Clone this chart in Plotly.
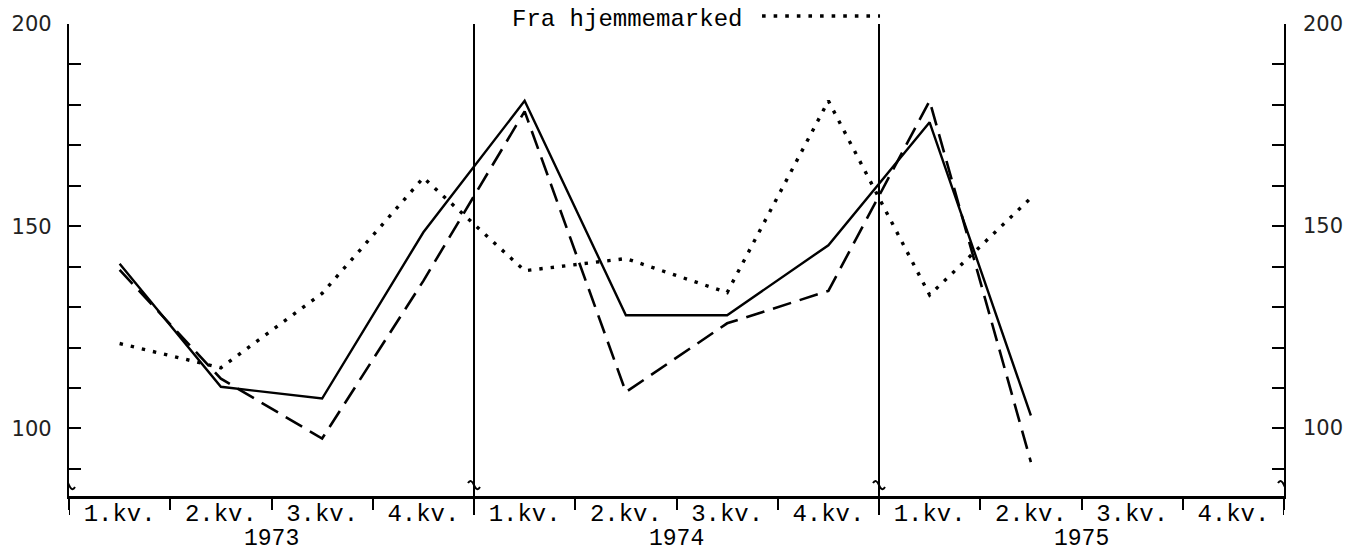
import plotly.graph_objects as go

# ---- data ----
quarters = ["1.kv.", "2.kv.", "3.kv.", "4.kv."]
years = ["1973", "1974", "1975"]

solid_vals = [140.7, 110.3, 107.4, 148.5, 181.0, 128.0, 128.0, 145.3, 175.7, 103.2]
dashed_vals = [139.2, 112.3, 97.5, 136.5, 178.4, 109.0, 126.0, 134.0, 181.0, 91.7]
hjemme_vals = [121.0, 115.0, 133.4, 162.0, 139.0, 142.0, 133.6, 181.0, 133.0, 157.0]

y_tick_vals = [90, 100, 110, 120, 130, 140, 150, 160, 170, 180, 190, 200]
y_tick_text = ["", "100", "", "", "", "", "150", "", "", "", "", "200"]
y_range = [83.3, 200]

legend_label = "Fra hjemmemarked"

# ---- build ----
x_labels = [q for _ in years for q in quarters]
x_pos = list(range(len(x_labels)))
n_q = len(quarters)

MONO = "Liberation Mono"
SANS = "DejaVu Sans"

fig = go.Figure()
fig.add_trace(go.Scatter(x=x_pos[:len(solid_vals)], y=solid_vals, mode="lines",
                         line=dict(color="black", width=2.4), showlegend=False,
                         name="heltrukket"))
fig.add_trace(go.Scatter(x=x_pos[:len(dashed_vals)], y=dashed_vals, mode="lines",
                         line=dict(color="black", width=2.6, dash="19px,9px"),
                         showlegend=False, name="stiplet"))
fig.add_trace(go.Scatter(x=x_pos[:len(hjemme_vals)], y=hjemme_vals, mode="lines",
                         line=dict(color="black", width=3.4, dash="3.4px,8px"),
                         showlegend=False, name=legend_label))

shapes = []
# year separators
for k in range(1, len(years)):
    xb = k * n_q - 0.5
    shapes.append(dict(type="line", xref="x", yref="paper", x0=xb, x1=xb,
                       y0=-0.04, y1=1, line=dict(color="black", width=2)))
# end ticks below axis
for xb in [-0.5, len(x_labels) - 0.5]:
    shapes.append(dict(type="line", xref="x", yref="paper", x0=xb, x1=xb,
                       y0=-0.04, y1=0, line=dict(color="black", width=2)))
# break squiggles
brk_y = 86
for xb in [-0.5, 3.5, 7.5, 11.5]:
    shapes.append(dict(type="path", xref="x", yref="y", xsizemode="pixel",
                       ysizemode="pixel", xanchor=xb, yanchor=brk_y,
                       path="M -6,2 Q -3,7 0,0 Q 3,-7 6,-2",
                       line=dict(color="black", width=2)))
# legend sample dotted line
shapes.append(dict(type="line", xref="paper", yref="paper", x0=0.5704, x1=0.6675,
                   y0=1.0168, y1=1.0168,
                   line=dict(color="black", width=3.6, dash="3.6px,8px")))

annotations = []
for i, yr in enumerate(years):
    annotations.append(dict(text=yr, x=i * n_q + (n_q - 1) / 2, xref="x",
                            y=-0.0903, yref="paper", showarrow=False,
                            xanchor="center", yanchor="middle",
                            font=dict(family=MONO, size=23, color="black")))
for v, t in zip(y_tick_vals, y_tick_text):
    if t:
        annotations.append(dict(text=t, x=1, xref="paper", y=v, yref="y",
                                xshift=17, showarrow=False, xanchor="left",
                                yanchor="middle",
                                font=dict(family=SANS, size=21, color="#222")))
annotations.append(dict(text=legend_label, x=0.363, xref="paper", y=1.042,
                        yref="paper", showarrow=False, xanchor="left",
                        yanchor="top",
                        font=dict(family=MONO, size=24, color="black")))

fig.update_layout(
    width=1349, height=552,
    margin=dict(l=69, r=65, t=20, b=56),
    plot_bgcolor="white", paper_bgcolor="white",
    shapes=shapes, annotations=annotations,
    xaxis=dict(range=[-0.5, len(x_labels) - 0.5], tickvals=x_pos, ticktext=x_labels,
               ticks="", showgrid=False, zeroline=False, showline=True,
               linecolor="black", linewidth=2.5, ticklabelstandoff=-7,
               tickfont=dict(family=MONO, size=24, color="black"),
               minor=dict(ticks="outside", tick0=-0.5, dtick=1, ticklen=11,
                          tickwidth=2, tickcolor="black", showgrid=False)),
    yaxis=dict(range=y_range, tickvals=y_tick_vals, ticktext=y_tick_text,
               ticks="inside", ticklen=12, tickwidth=2.2, tickcolor="black",
               showgrid=False, zeroline=False, showline=True, linecolor="black",
               linewidth=2.2, mirror="ticks", ticklabelstandoff=11,
               tickfont=dict(family=SANS, size=21, color="#222")),
)

fig.write_html("out.html", config={"displayModeBar": False},
               post_script="document.body.style.margin='0';document.body.style.padding='0';")
